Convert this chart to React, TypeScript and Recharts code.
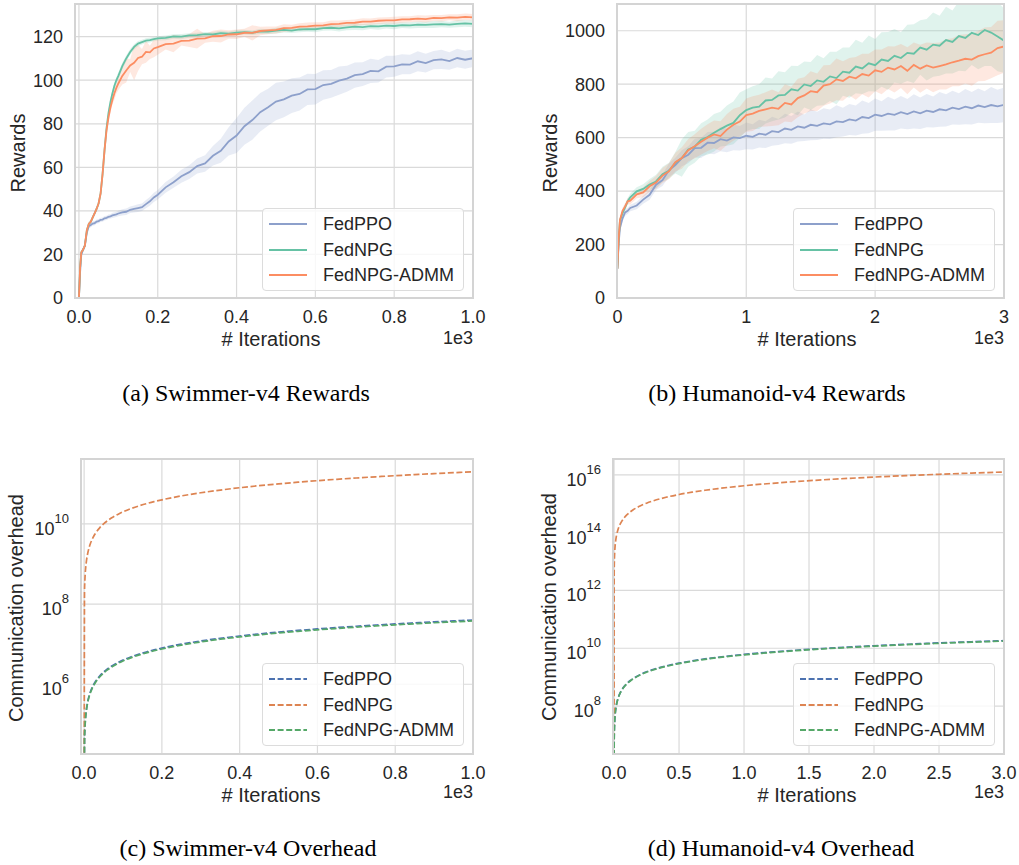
import { ComposedChart, Line, Area, XAxis, YAxis, CartesianGrid } from 'recharts';

const FONT = '"Liberation Sans", Arial, sans-serif';
const SERIF = '"Liberation Serif", "Times New Roman", serif';
const INK = '#262626';
const GRID = '#dadada';

// Set2 for the reward curves, seaborn "deep" for the overhead curves
const SET2 = { ppo: '#8da0cb', npg: '#66c2a5', admm: '#fc8d62' };
const DEEP = { ppo: '#4c72b0', npg: '#dd8452', admm: '#55a868' };

const NAMES = { ppo: 'FedPPO', npg: 'FedNPG', admm: 'FedNPG-ADMM' };

// ---- (a) Swimmer-v4 rewards ----
const swimIters = [
  0, 3, 6, 10, 15, 20, 25, 30, 35, 40, 45, 50, 55, 60, 65, 70, 75, 80, 85, 90, 95, 100,
  110, 120, 130, 140, 150, 160, 170, 180, 190,
  200, 220, 240, 260, 280, 300, 320, 340, 360, 380, 400, 420, 440, 460, 480, 500, 520, 540, 560, 580,
  600, 620, 640, 660, 680, 700, 720, 740, 760, 780, 800, 820, 840, 860, 880, 900, 920, 940, 960, 980, 1000,
];
const swimPpo = [
  0, 12, 20, 22, 24, 30, 33, 33.5, 34.2, 34.4, 35.1, 35.3, 35.9, 36, 36.6, 36.8, 37.3, 37.5, 37.9, 38.2, 38.4, 38.8,
  39.3, 39.6, 40.5, 40.9, 41.3, 41.7, 43.1, 44.4, 46.2,
  47.4, 50.8, 53.2, 55.9, 57.8, 60.6, 61.8, 65.3, 67.6, 71.9, 74.6, 78.9, 81.7, 85.3, 87.6, 90.2, 91.2, 92.9, 93.7, 95.8,
  95.9, 97.8, 98.3, 99.8, 100.7, 102.3, 102.8, 104.3, 104.1, 106.2, 106.4, 107.3, 107.2, 108.7, 107.9, 109.2, 109.6, 108.8, 110.2, 109.4, 110.1,
];
const swimPpoBand = [
  0, 1, 1, 1, 1, 1, 1, 1, 1, 1, 1, 1, 1, 1, 1, 1, 1, 1, 1.2, 1.2, 1.2, 1.3,
  1.4, 1.5, 1.5, 1.6, 1.8, 1.7, 1.9, 2, 2.1,
  2.2, 2.5, 2.6, 3, 3.2, 3.4, 3.8, 4.5, 5.5, 6.5, 8, 8.5, 9, 8.8, 8.5, 8.6, 8.2, 8, 7.6, 7.2,
  7, 6.8, 6.4, 6.5, 6, 5.8, 5.5, 5.6, 5.2, 5, 4.8, 4.6, 4.5, 4.6, 4.3, 4.2, 4.4, 4, 4.2, 4.1, 4,
];
const swimNpg = [
  0, 14, 21, 22, 24, 31, 34, 35, 37, 39, 41, 43.5, 48, 57, 68, 78, 85, 90, 94, 97.5, 100, 102,
  106.5, 110, 113, 115.3, 116.8, 117.5, 118.2, 118.4, 118.9,
  119.2, 119.4, 120.1, 120, 120.6, 120.7, 121.2, 121, 121.6, 121.4, 121.9, 122.1, 121.8, 122.4, 122.3, 122.8, 123.1, 122.8, 123.3, 123.5,
  123.4, 123.9, 124.1, 123.8, 124.3, 124.6, 124.4, 124.8, 124.7, 125.1, 124.9, 125.3, 125.2, 125.5, 125.4, 125.6, 125.8, 125.5, 125.9, 126.1, 125.9,
];
const swimNpgBand = [
  0, 1, 1, 1, 1, 1, 1, 1, 1, 1, 1, 1, 1.2, 1.5, 1.5, 1.5, 1.5, 1.5, 1.5, 1.5, 1.5, 1.5,
  1.5, 1.4, 1.3, 1.2, 1.2, 1.1, 1.1, 1.1, 1,
  1, 1.1, 1, 1.2, 1, 1.1, 1, 1.2, 1.1, 1, 1.2, 1.1, 1, 1.2, 1.1, 1.3, 1.2, 1.1, 1.3, 1.2,
  1.4, 1.2, 1.3, 1.4, 1.3, 1.5, 1.4, 1.3, 1.5, 1.4, 1.5, 1.3, 1.4, 1.5, 1.4, 1.6, 1.5, 1.4, 1.6, 1.5, 1.6,
];
const swimAdmm = [
  0, 14, 21, 22, 24, 31, 34, 35, 37, 39, 41, 43.5, 48, 57, 68, 77, 83, 87.5, 91, 94, 96.5, 98.5,
  102, 104.5, 106.8, 108, 110.2, 110.8, 113, 112.8, 114.6,
  115.2, 116.6, 116.8, 118.1, 118.2, 119.1, 119.2, 120.2, 120.3, 121, 121.1, 121.8, 121.7, 122.6, 122.9, 123.1, 123.9, 124, 124.6, 124.7,
  125.1, 125.2, 125.8, 125.9, 126.3, 126.4, 126.9, 126.9, 127.3, 127.5, 127.5, 127.9, 128, 128.3, 128.1, 128.6, 128.5, 128.9, 128.7, 129.1, 128.9,
];
const swimAdmmBand = [
  0, 1, 1, 1, 1, 1, 1, 1, 1, 1, 1, 1, 1.2, 1.5, 1.5, 1.8, 2, 2.5, 2, 3, 2.5, 3,
  4, 5.5, 3, 8, 6, 3.5, 5, 3, 4,
  3.5, 2.5, 4, 2.2, 3, 4.5, 2, 2.5, 3, 2, 2.2, 1.8, 3.5, 2, 1.8, 1.6, 1.8, 1.5, 1.6, 1.8,
  1.5, 1.4, 1.6, 1.5, 1.4, 1.5, 1.6, 1.4, 1.5, 1.4, 1.6, 1.5, 1.4, 1.5, 1.6, 1.4, 1.5, 1.4, 1.6, 1.5, 1.5,
];

// ---- (b) Humanoid-v4 rewards ----
const humIters = [
  0, 10, 20, 40, 60, 80, 100,
  150, 200, 250, 300, 350, 400, 450, 500, 550, 600,
  650, 700, 750, 800, 850, 900, 950, 1000, 1050, 1100,
  1150, 1200, 1250, 1300, 1350, 1400, 1450, 1500, 1550, 1600,
  1650, 1700, 1750, 1800, 1850, 1900, 1950, 2000, 2050, 2100,
  2150, 2200, 2250, 2300, 2350, 2400, 2450, 2500, 2550, 2600,
  2650, 2700, 2750, 2800, 2850, 2900, 2950, 3000,
];
const humPpo = [
  110, 205, 262, 298, 320, 326, 337,
  346, 368, 386, 424, 441, 478, 497, 523, 536, 561,
  562, 581, 580, 594, 589, 601, 598, 607, 603, 615,
  611, 624, 621, 634, 629, 642, 637, 648, 644, 653,
  650, 661, 658, 668, 664, 677, 673, 686, 681, 690,
  685, 695, 688, 698, 691, 701, 696, 706, 702, 712,
  707, 716, 710, 720, 714, 722, 717, 723,
];
const humPpoBand = [
  5, 10, 10, 10, 12, 12, 12,
  14, 15, 18, 20, 22, 25, 28, 30, 32, 35,
  38, 40, 42, 45, 44, 48, 46, 50, 47, 52,
  50, 54, 49, 55, 52, 56, 50, 58, 53, 57,
  55, 60, 54, 58, 56, 62, 57, 60, 55, 63,
  58, 61, 57, 64, 59, 62, 58, 65, 60, 63,
  59, 66, 61, 64, 60, 67, 62, 65,
];
const humNpg = [
  110, 220, 290, 318, 339, 362, 377,
  399, 408, 425, 436, 463, 476, 506, 524, 556, 566,
  592, 602, 618, 632, 645, 655, 684, 703, 712, 716,
  739, 741, 758, 760, 781, 776, 799, 793, 814, 809,
  829, 823, 847, 843, 866, 859, 878, 871, 892, 887,
  906, 898, 917, 914, 937, 929, 948, 944, 965, 958,
  980, 973, 992, 984, 1003, 993, 978, 963,
];
const humNpgBand = [
  5, 10, 10, 12, 12, 12, 14,
  15, 18, 20, 25, 28, 30, 40, 70, 65, 60,
  62, 66, 70, 65, 75, 80, 85, 78, 80, 84,
  86, 80, 90, 85, 88, 92, 86, 90, 95, 88,
  92, 98, 90, 94, 100, 96, 104, 98, 102, 108,
  100, 96, 105, 110, 102, 115, 120, 112, 125, 118,
  130, 125, 120, 128, 135, 125, 130, 120,
];
const humAdmm = [
  110, 222, 292, 326, 343, 362, 364,
  388, 395, 418, 432, 458, 474, 508, 524, 553, 568,
  585, 600, 612, 606, 630, 648, 660, 684, 690, 700,
  706, 712, 708, 730, 724, 748, 758, 774, 770, 795,
  800, 818, 812, 828, 822, 838, 832, 852, 846, 862,
  855, 868, 850, 872, 858, 870, 862, 868, 874, 882,
  888, 895, 892, 905, 912, 918, 935, 941,
];
const humAdmmBand = [
  5, 10, 10, 12, 12, 12, 14,
  15, 18, 20, 24, 28, 30, 35, 40, 42, 45,
  48, 50, 52, 55, 58, 60, 56, 62, 65, 60,
  64, 68, 62, 70, 66, 72, 68, 74, 70, 76,
  72, 78, 74, 70, 80, 76, 82, 78, 84, 80,
  86, 82, 88, 84, 90, 86, 92, 88, 94, 90,
  96, 92, 98, 94, 100, 96, 102, 98,
];

// ---- (c) Swimmer-v4 overhead (log y) ----
const swimOhIters = [
  0, 1, 2, 3, 4, 6, 8, 10, 13, 16, 20, 25, 30, 40, 50, 60, 70, 80, 90, 100,
  120, 140, 160, 180, 200, 250, 300, 350, 400, 450, 500, 550, 600, 650, 700, 750, 800, 850, 900, 950, 1000,
];
const swimOhPpo = [
  1, 4.0e4, 8.0e4, 1.2e5, 1.6e5, 2.4e5, 3.2e5, 4.0e5, 5.2e5, 6.4e5, 8.0e5, 1.0e6, 1.2e6, 1.6e6, 2.0e6, 2.4e6, 2.8e6, 3.2e6, 3.6e6, 4.0e6,
  4.8e6, 5.6e6, 6.4e6, 7.2e6, 8.0e6, 1.0e7, 1.2e7, 1.4e7, 1.6e7, 1.8e7, 2.0e7, 2.2e7, 2.4e7, 2.6e7, 2.8e7, 3.0e7, 3.2e7, 3.4e7, 3.6e7, 3.8e7, 4.0e7,
];
const swimOhNpg = [
  1, 2.0e8, 4.0e8, 6.0e8, 8.0e8, 1.2e9, 1.6e9, 2.0e9, 2.6e9, 3.2e9, 4.0e9, 5.0e9, 6.0e9, 8.0e9, 1.0e10, 1.2e10, 1.4e10, 1.6e10, 1.8e10, 2.0e10,
  2.4e10, 2.8e10, 3.2e10, 3.6e10, 4.0e10, 5.0e10, 6.0e10, 7.0e10, 8.0e10, 9.0e10, 1.0e11, 1.1e11, 1.2e11, 1.3e11, 1.4e11, 1.5e11, 1.6e11, 1.7e11, 1.8e11, 1.9e11, 2.0e11,
];
const swimOhAdmm = [
  1, 3.8e4, 7.6e4, 1.14e5, 1.52e5, 2.28e5, 3.04e5, 3.8e5, 4.94e5, 6.08e5, 7.6e5, 9.5e5, 1.14e6, 1.52e6, 1.9e6, 2.28e6, 2.66e6, 3.04e6, 3.42e6, 3.8e6,
  4.56e6, 5.32e6, 6.08e6, 6.84e6, 7.6e6, 9.5e6, 1.14e7, 1.33e7, 1.52e7, 1.71e7, 1.9e7, 2.09e7, 2.28e7, 2.47e7, 2.66e7, 2.85e7, 3.04e7, 3.23e7, 3.42e7, 3.61e7, 3.8e7,
];

// ---- (d) Humanoid-v4 overhead (log y) ----
const humOhIters = [
  0, 1, 2, 3, 5, 8, 12, 16, 20, 30, 40, 50, 60, 80, 100, 125, 150, 200, 250, 300,
  400, 500, 600, 700, 800, 1000, 1200, 1400, 1600, 1800, 2000, 2250, 2500, 2750, 3000,
];
const humOhPpo = [
  1, 6.1e6, 1.22e7, 1.83e7, 3.05e7, 4.88e7, 7.32e7, 9.76e7, 1.22e8, 1.83e8, 2.44e8, 3.05e8, 3.66e8, 4.88e8, 6.1e8, 7.63e8, 9.15e8, 1.22e9, 1.53e9, 1.83e9,
  2.44e9, 3.05e9, 3.66e9, 4.27e9, 4.88e9, 6.1e9, 7.32e9, 8.54e9, 9.76e9, 1.1e10, 1.22e10, 1.37e10, 1.53e10, 1.68e10, 1.83e10,
];
const humOhNpg = [
  1, 4.2e12, 8.4e12, 1.26e13, 2.1e13, 3.36e13, 5.04e13, 6.72e13, 8.4e13, 1.26e14, 1.68e14, 2.1e14, 2.52e14, 3.36e14, 4.2e14, 5.25e14, 6.3e14, 8.4e14, 1.05e15, 1.26e15,
  1.68e15, 2.1e15, 2.52e15, 2.94e15, 3.36e15, 4.2e15, 5.04e15, 5.88e15, 6.72e15, 7.56e15, 8.4e15, 9.45e15, 1.05e16, 1.155e16, 1.26e16,
];
const humOhAdmm = [
  1, 5.9e6, 1.18e7, 1.77e7, 2.95e7, 4.72e7, 7.08e7, 9.44e7, 1.18e8, 1.77e8, 2.36e8, 2.95e8, 3.54e8, 4.72e8, 5.9e8, 7.38e8, 8.85e8, 1.18e9, 1.48e9, 1.77e9,
  2.36e9, 2.95e9, 3.54e9, 4.13e9, 4.72e9, 5.9e9, 7.08e9, 8.26e9, 9.44e9, 1.06e10, 1.18e10, 1.33e10, 1.48e10, 1.62e10, 1.77e10,
];

const swimTicks = [0, 200, 400, 600, 800, 1000];
const humRewardTicks = [0, 1000, 2000, 3000];
const humOhTicks = [0, 500, 1000, 1500, 2000, 2500, 3000];
const swimRewardY = [0, 20, 40, 60, 80, 100, 120];
const humRewardY = [0, 200, 400, 600, 800, 1000];
const swimOhY = [1e6, 1e8, 1e10];
const humOhY = [1e8, 1e10, 1e12, 1e14, 1e16];

type Box = { left: number; top: number; width: number; height: number };

const rewardRows = (t: number[], ppo: number[], pb: number[], npg: number[], nb: number[], admm: number[], ab: number[]) =>
  t.map((x, i) => ({
    t: x,
    ppo: ppo[i],
    npg: npg[i],
    admm: admm[i],
    ppoBand: [ppo[i] - pb[i], ppo[i] + pb[i]],
    npgBand: [npg[i] - nb[i], npg[i] + nb[i]],
    admmBand: [admm[i] - ab[i], admm[i] + ab[i]],
  }));

const overheadRows = (t: number[], ppo: number[], npg: number[], admm: number[]) =>
  t.map((x, i) => ({ t: x, ppo: ppo[i], npg: npg[i], admm: admm[i] }));

const tickStyle = { fill: INK, fontSize: 18, fontFamily: FONT };

const PowerTick = ({ x, y, payload }: any) => {
  const exp = Math.round(Math.log10(payload.value));
  return (
    <text x={x} y={y} textAnchor="end" fill={INK} fontSize={18} fontFamily={FONT}>
      <tspan dy={11}>10</tspan>
      <tspan dy={-12} fontSize={13}>{exp}</tspan>
    </text>
  );
};

function Frame({ box }: { box: Box }) {
  return (
    <div
      style={{
        position: 'absolute',
        left: box.left - 1,
        top: box.top - 1,
        width: box.width + 2,
        height: box.height + 2,
        border: '2px solid #d4d4d4',
        boxSizing: 'border-box',
        pointerEvents: 'none',
      }}
    />
  );
}

function LegendBox({ left, top, colors, dashed }: { left: number; top: number; colors: typeof SET2; dashed?: boolean }) {
  const keys: (keyof typeof NAMES)[] = ['ppo', 'npg', 'admm'];
  return (
    <div
      style={{
        position: 'absolute',
        left,
        top,
        width: 202,
        height: 83,
        border: '1px solid #dcdcdc',
        borderRadius: 4,
        background: 'rgba(255,255,255,0.8)',
        boxSizing: 'border-box',
      }}
    >
      {keys.map((k, i) => (
        <div key={k} style={{ position: 'absolute', left: 0, top: 4 + i * 25.7, height: 22, display: 'flex', alignItems: 'center' }}>
          <svg width={60} height={22} style={{ display: 'block' }}>
            <line x1={6} x2={44} y1={11} y2={11} stroke={colors[k]} strokeWidth={1.8} strokeDasharray={dashed ? '6 2.6' : undefined} />
          </svg>
          <span style={{ fontSize: 18, fontFamily: FONT, color: INK, lineHeight: '22px' }}>{NAMES[k]}</span>
        </div>
      ))}
    </div>
  );
}

function AxisText({ x, y, text, rotate, align }: { x: number; y: number; text: string; rotate?: boolean; align?: 'right' }) {
  const tx = align === 'right' ? 'translate(-100%,-50%)' : 'translate(-50%,-50%)';
  return (
    <div
      style={{
        position: 'absolute',
        left: x,
        top: y,
        transform: rotate ? `${tx} rotate(-90deg)` : tx,
        fontSize: align === 'right' ? 18 : 20,
        fontFamily: FONT,
        color: INK,
        whiteSpace: 'nowrap',
        lineHeight: 1,
      }}
    >
      {text}
    </div>
  );
}

function Caption({ x, y, text }: { x: number; y: number; text: string }) {
  return (
    <div
      style={{
        position: 'absolute',
        left: x,
        top: y,
        transform: 'translate(-50%,-50%)',
        fontSize: 24,
        fontFamily: SERIF,
        color: '#000',
        whiteSpace: 'nowrap',
        lineHeight: 1,
      }}
    >
      {text}
    </div>
  );
}

const YW = 70;
const XH = 40;

function RewardPanel({ box, data, xDomain, xTicks, fmt, yDomain, yTicks }: any) {
  return (
    <div style={{ position: 'absolute', left: box.left - YW, top: box.top - 10 }}>
      <ComposedChart width={box.width + YW + 30} height={box.height + 10 + XH} data={data} margin={{ top: 10, right: 30, bottom: 0, left: 0 }}>
        <CartesianGrid stroke={GRID} strokeWidth={1.2} />
        <XAxis
          dataKey="t"
          type="number"
          domain={xDomain}
          ticks={xTicks}
          interval={0}
          allowDataOverflow
          tickFormatter={fmt}
          axisLine={false}
          tickLine={false}
          tickSize={0}
          tickMargin={12}
          height={XH}
          tick={tickStyle}
        />
        <YAxis
          type="number"
          domain={yDomain}
          ticks={yTicks}
          interval={0}
          allowDataOverflow
          axisLine={false}
          tickLine={false}
          tickSize={0}
          tickMargin={12}
          width={YW}
          tick={tickStyle}
        />
        <Area dataKey="ppoBand" stroke="none" fill={SET2.ppo} fillOpacity={0.2} isAnimationActive={false} />
        <Area dataKey="npgBand" stroke="none" fill={SET2.npg} fillOpacity={0.2} isAnimationActive={false} />
        <Area dataKey="admmBand" stroke="none" fill={SET2.admm} fillOpacity={0.2} isAnimationActive={false} />
        <Line dataKey="ppo" type="linear" stroke={SET2.ppo} strokeWidth={1.8} dot={false} activeDot={false} isAnimationActive={false} />
        <Line dataKey="npg" type="linear" stroke={SET2.npg} strokeWidth={1.8} dot={false} activeDot={false} isAnimationActive={false} />
        <Line dataKey="admm" type="linear" stroke={SET2.admm} strokeWidth={1.8} dot={false} activeDot={false} isAnimationActive={false} />
      </ComposedChart>
    </div>
  );
}

function OverheadPanel({ box, data, xDomain, xTicks, yDomain, yTicks }: any) {
  return (
    <div style={{ position: 'absolute', left: box.left - YW, top: box.top - 10 }}>
      <ComposedChart width={box.width + YW + 30} height={box.height + 10 + XH} data={data} margin={{ top: 10, right: 30, bottom: 0, left: 0 }}>
        <CartesianGrid stroke={GRID} strokeWidth={1.2} />
        <XAxis
          dataKey="t"
          type="number"
          domain={xDomain}
          ticks={xTicks}
          interval={0}
          allowDataOverflow
          tickFormatter={(v: number) => (v / 1000).toFixed(1)}
          axisLine={false}
          tickLine={false}
          tickSize={0}
          tickMargin={12}
          height={XH}
          tick={tickStyle}
        />
        <YAxis
          type="number"
          scale="log"
          domain={yDomain}
          ticks={yTicks}
          interval={0}
          allowDataOverflow
          axisLine={false}
          tickLine={false}
          tickSize={0}
          tickMargin={12}
          width={YW}
          tick={<PowerTick />}
        />
        <Line dataKey="ppo" type="monotone" stroke={DEEP.ppo} strokeWidth={1.7} strokeDasharray="6 2.6" dot={false} activeDot={false} isAnimationActive={false} />
        <Line dataKey="npg" type="monotone" stroke={DEEP.npg} strokeWidth={1.7} strokeDasharray="6 2.6" dot={false} activeDot={false} isAnimationActive={false} />
        <Line dataKey="admm" type="monotone" stroke={DEEP.admm} strokeWidth={1.7} strokeDasharray="6 2.6" dot={false} activeDot={false} isAnimationActive={false} />
      </ComposedChart>
    </div>
  );
}

const boxA: Box = { left: 75, top: 4, width: 398, height: 294 };
const boxB: Box = { left: 617, top: 4, width: 387, height: 294 };
const boxC: Box = { left: 81, top: 459, width: 392, height: 295 };
const boxD: Box = { left: 613, top: 459, width: 391, height: 295 };

export default function App() {
  const dataA = rewardRows(swimIters, swimPpo, swimPpoBand, swimNpg, swimNpgBand, swimAdmm, swimAdmmBand);
  const dataB = rewardRows(humIters, humPpo, humPpoBand, humNpg, humNpgBand, humAdmm, humAdmmBand);
  const dataC = overheadRows(swimOhIters, swimOhPpo, swimOhNpg, swimOhAdmm);
  const dataD = overheadRows(humOhIters, humOhPpo, humOhNpg, humOhAdmm);

  return (
    <div style={{ position: 'absolute', left: 0, top: 0, width: 1019, height: 865, background: '#fff', overflow: 'hidden' }}>
      <RewardPanel
        box={boxA}
        data={dataA}
        xDomain={[-10, 1000]}
        xTicks={swimTicks}
        fmt={(v: number) => (v / 1000).toFixed(1)}
        yDomain={[0, 135]}
        yTicks={swimRewardY}
      />
      <RewardPanel
        box={boxB}
        data={dataB}
        xDomain={[-3, 3000]}
        xTicks={humRewardTicks}
        fmt={(v: number) => String(v / 1000)}
        yDomain={[0, 1100]}
        yTicks={humRewardY}
      />
      <OverheadPanel box={boxC} data={dataC} xDomain={[-8, 1000]} xTicks={swimTicks} yDomain={[10 ** 4.26, 10 ** 11.62]} yTicks={swimOhY} />
      <OverheadPanel box={boxD} data={dataD} xDomain={[-8, 3000]} xTicks={humOhTicks} yDomain={[10 ** 6.34, 10 ** 16.55]} yTicks={humOhY} />

      <Frame box={boxA} />
      <Frame box={boxB} />
      <Frame box={boxC} />
      <Frame box={boxD} />

      <LegendBox left={262} top={208} colors={SET2} />
      <LegendBox left={793} top={208} colors={SET2} />
      <LegendBox left={262} top={663} colors={DEEP} dashed />
      <LegendBox left={793} top={663} colors={DEEP} dashed />

      <AxisText x={18} y={153} text="Rewards" rotate />
      <AxisText x={550} y={153} text="Rewards" rotate />
      <AxisText x={16} y={608} text="Communication overhead" rotate />
      <AxisText x={549} y={607} text="Communication overhead" rotate />

      <AxisText x={271} y={339} text="# Iterations" />
      <AxisText x={807} y={339} text="# Iterations" />
      <AxisText x={271} y={795} text="# Iterations" />
      <AxisText x={807} y={795} text="# Iterations" />

      <AxisText x={473} y={338} text="1e3" align="right" />
      <AxisText x={1004} y={338} text="1e3" align="right" />
      <AxisText x={473} y={792} text="1e3" align="right" />
      <AxisText x={1004} y={792} text="1e3" align="right" />

      <Caption x={246} y={393} text="(a) Swimmer-v4 Rewards" />
      <Caption x={777} y={393} text="(b) Humanoid-v4 Rewards" />
      <Caption x={248} y={848} text="(c) Swimmer-v4 Overhead" />
      <Caption x={781} y={848} text="(d) Humanoid-v4 Overhead" />
    </div>
  );
}
